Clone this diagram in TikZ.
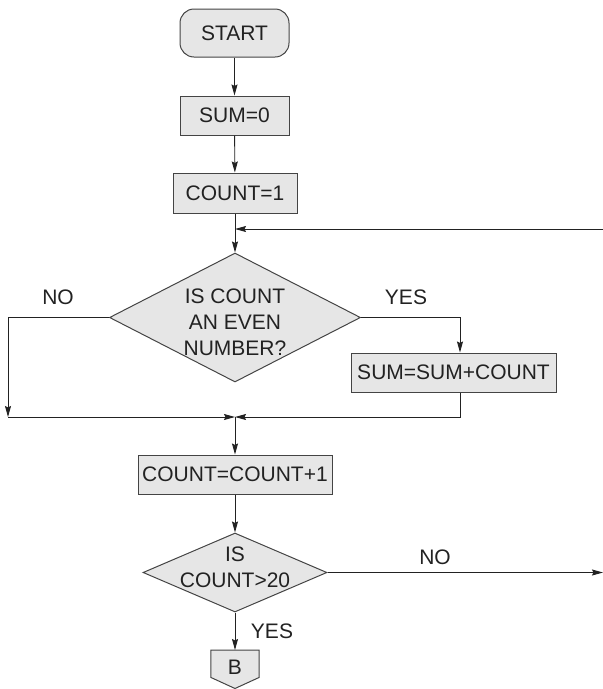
\documentclass[tikz,border=0pt]{standalone}
\usepackage{fontspec}
\setmainfont{Liberation Sans}
\usetikzlibrary{shapes.geometric,arrows.meta}
\definecolor{boxfill}{HTML}{E6E6E6}
\definecolor{ink}{HTML}{222222}
\definecolor{edge}{HTML}{444444}
\begin{document}
\begin{tikzpicture}[x=1pt,y=1pt,
  font=\fontsize{21}{26}\selectfont,
  every node/.style={text=ink},
  proc/.style={draw=edge,line width=1pt,fill=boxfill,inner sep=0pt,anchor=center},
  term/.style={proc,rounded corners=14pt},
  decide/.style={draw=edge,line width=1pt,fill=boxfill,diamond,inner sep=0pt},
  link/.style={draw=ink,line width=0.9pt,-{Stealth[length=11pt,width=6pt,inset=1.5pt]}},
  lbl/.style={inner sep=0pt,anchor=center}]
\useasboundingbox (0,0) rectangle (603,-689);

% blocks
\node[term,minimum width=109pt,minimum height=48pt] (start) at (234.5,-33) {START};
\node[proc,minimum width=109pt,minimum height=39pt] (sum0) at (234.5,-115.5) {SUM=0};
\node[proc,minimum width=124pt,minimum height=40pt] (cnt1) at (235,-193) {COUNT=1};
\node[decide,minimum width=251pt,minimum height=129pt] (even) at (235,-317.5) {};
\node[lbl,align=center] (eventext) at (235,-322) {IS COUNT\\AN EVEN\\NUMBER?};
\node[proc,minimum width=205pt,minimum height=39pt] (sum2) at (453.5,-372.5) {SUM=SUM+COUNT};
\node[proc,minimum width=194pt,minimum height=39pt] (cnt2) at (235,-474.5) {COUNT=COUNT+1};
\node[decide,minimum width=184pt,minimum height=79pt] (test) at (235,-572.5) {};
\node[lbl,align=center] (testtext) at (235,-567) {IS\\COUNT>20};
% off-page connector
\node[inner sep=0pt,minimum width=48pt,minimum height=27pt,anchor=north] (B) at (235,-650) {};
\draw[edge,line width=1pt,fill=boxfill]
  (B.north west) -- (B.north east) -- (B.south east) -- (235,-688.5) -- (B.south west) -- cycle;
\node[lbl] at (235,-667) {B};

% junction points
\coordinate (loopin) at (603,-229);
\coordinate (join1) at (235,-229);
\coordinate (leftc) at (8,-417);
\coordinate (merge) at (235,-417);
\coordinate (yescol) at (460,-317.5);
\coordinate (exit) at (603,-572.5);

% connectors
\draw[link] (start) -- (sum0);
\draw[link] (sum0) -- (cnt1);
\draw[link] (cnt1) -- (even.north);
\draw[link] (loopin) -- (join1);
\draw[link] (even.west) -| (leftc);
\draw[link] (leftc) -- (merge);
\draw[link] (even.east) -| (sum2.north -| yescol);
\draw[link] (sum2.south -| yescol) |- (merge);
\draw[link] (merge) -- (cnt2);
\draw[link] (cnt2) -- (test.north);
\draw[link] (test.east) -- (exit);
\draw[link] (test.south) -- (B.north);

% branch labels
\node[lbl] at (58,-297) {NO};
\node[lbl] at (406,-297) {YES};
\node[lbl] at (435,-557) {NO};
\node[lbl] at (272,-631) {YES};
\end{tikzpicture}
\end{document}
